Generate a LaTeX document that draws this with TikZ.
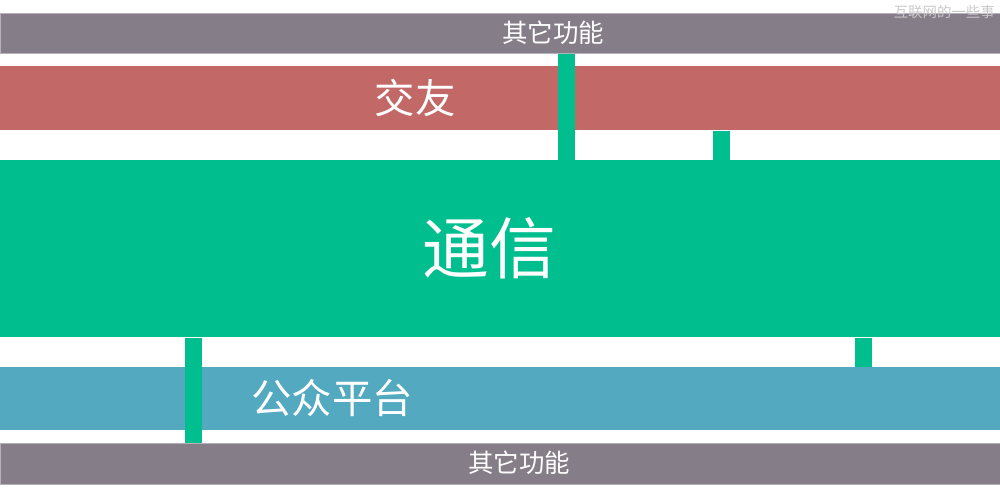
\documentclass[tikz,border=0pt]{standalone}
\usepackage{fontspec}
\setmainfont{Noto Sans CJK SC}
\usetikzlibrary{positioning}

\definecolor{qita}{HTML}{857D88}
\definecolor{jiaoyou}{HTML}{C26866}
\definecolor{tongxin}{HTML}{00BE8E}
\definecolor{gongzhong}{HTML}{52A9C0}
\definecolor{shuiyin}{HTML}{C9C9C9}

\begin{document}
\begin{tikzpicture}[
      x=0.02cm, y=-0.02cm,
      band/.style={rectangle, inner sep=0pt, minimum width=20cm, anchor=north west},
      txt/.style={text=white, inner sep=0pt},
      link/.style={line width=0.34cm, tongxin}
    ]
    \useasboundingbox (0,0) rectangle (1000,496);

    % Bands
    \node[band, fill=qita, draw=qita!60, line width=0.4pt, minimum height=0.8cm] (qitaA) at (0,13) {};
    \node[band, fill=jiaoyou, minimum height=1.28cm] (jiaoyou) at (0,66) {};
    \node[band, fill=tongxin, minimum height=3.54cm] (tongxin) at (0,160) {};
    \node[band, fill=gongzhong, minimum height=1.26cm] (gongzhong) at (0,367) {};
    \node[band, fill=qita, draw=qita!60, line width=0.4pt, minimum height=0.82cm] (qitaB) at (0,443) {};

    % Labels
    \node[txt, font=\fontsize{14.5}{16}\selectfont] (lqitaA) at (553,33) {其它功能};
    \node[txt, font=\fontsize{23}{26}\selectfont] (ljiaoyou) at (415,98) {交友};
    \node[txt, font=\fontsize{38}{42}\selectfont] (ltongxin) at (489,248) {通信};
    \node[txt, font=\fontsize{23}{26}\selectfont] (lgongzhong) at (332,398) {公众平台};
    \node[txt, font=\fontsize{14.5}{16}\selectfont] (lqitaB) at (519,463) {其它功能};

    % Links
    \coordinate (c1) at (566.5,0);
    \coordinate (c2) at (721.5,0);
    \coordinate (c3) at (193.5,0);
    \coordinate (c4) at (863.5,0);
    \draw[link] (qitaA.south -| c1) -- (tongxin.north -| c1);
    \draw[link] (jiaoyou.south -| c2) -- (tongxin.north -| c2);
    \draw[link] (tongxin.south -| c3) -- (qitaB.north -| c3);
    \draw[link] (tongxin.south -| c4) -- (gongzhong.north -| c4);

    % Watermark
    \node[text=shuiyin, inner sep=0pt, anchor=east, font=\fontsize{8.2}{9}\selectfont] (mark) at (995,12) {互联网的一些事};
\end{tikzpicture}
\end{document}
